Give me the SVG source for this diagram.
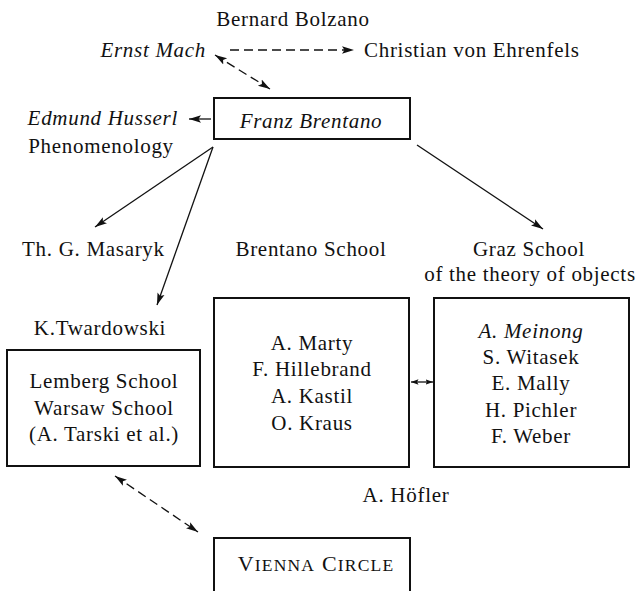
<svg xmlns="http://www.w3.org/2000/svg" width="640" height="591" viewBox="0 0 640 591">
<style>
text{font-family:"Liberation Serif","Times New Roman",serif;font-size:21px;letter-spacing:0.7px;fill:#111}
.it{font-style:italic}
.m{text-anchor:middle}
.e{text-anchor:end}
.box{fill:none;stroke:#111;stroke-width:2}
.ln{fill:none;stroke:#111;stroke-width:1.3}
.d{stroke-dasharray:9 5}
.big{font-size:22px}
.sm{font-size:17.5px}
</style>
<defs>
<marker id="ah" markerUnits="userSpaceOnUse" markerWidth="13" markerHeight="9" refX="12" refY="4.5" orient="auto-start-reverse">
<path d="M0,0.8 L12,4.5 L0,8.2 L2.5,4.5 Z" fill="#111"/>
</marker>
<marker id="ahs" markerUnits="userSpaceOnUse" markerWidth="8" markerHeight="7" refX="7.5" refY="3.5" orient="auto-start-reverse">
<path d="M0,0.8 L7.5,3.5 L0,6.2 L1.5,3.5 Z" fill="#111"/>
</marker>
</defs>
<rect width="640" height="591" fill="#fff"/>

<g id="bolzano"><text class="m" x="293" y="26">Bernard Bolzano</text></g>
<g id="mach"><text class="it e" x="206" y="57">Ernst Mach</text></g>
<g id="ehrenfels"><text x="364" y="57">Christian von Ehrenfels</text></g>
<g id="brentano">
<rect class="box" x="214" y="98" width="196" height="41"/>
<text class="it m" x="311" y="128">Franz Brentano</text>
</g>
<g id="husserl">
<text class="it e" x="178" y="125">Edmund Husserl</text>
<text class="m" x="101" y="153">Phenomenology</text>
</g>
<g id="masaryk"><text x="22" y="256">Th. G. Masaryk</text></g>
<g id="twardowski"><text class="m" x="100" y="335">K.Twardowski</text></g>
<g id="lemberg">
<rect class="box" x="7" y="350" width="193" height="116"/>
<text class="m" x="104" y="388">Lemberg School</text>
<text class="m" x="104" y="415">Warsaw School</text>
<text class="m" x="104" y="441">(A. Tarski et al.)</text>
</g>
<g id="brentano-school">
<text class="m" x="311" y="256">Brentano School</text>
<rect class="box" x="214" y="298" width="195" height="169"/>
<text class="m" x="312" y="350">A. Marty</text>
<text class="m" x="312" y="376">F. Hillebrand</text>
<text class="m" x="312" y="403">A. Kastil</text>
<text class="m" x="312" y="430">O. Kraus</text>
</g>
<g id="graz-school">
<text class="m" x="529" y="256">Graz School</text>
<text class="m" x="530" y="281">of the theory of objects</text>
<rect class="box" x="434" y="298" width="195" height="169"/>
<text class="it m" x="531" y="338">A. Meinong</text>
<text class="m" x="531" y="364">S. Witasek</text>
<text class="m" x="531" y="390">E. Mally</text>
<text class="m" x="531" y="417">H. Pichler</text>
<text class="m" x="531" y="443">F. Weber</text>
</g>
<g id="hofler"><text class="m" x="406" y="502">A. Höfler</text></g>
<g id="vienna">
<rect class="box" x="214" y="538" width="196" height="70"/>
<text class="m" x="316" y="571" style="letter-spacing:1.2px"><tspan class="big">V</tspan><tspan class="sm">IENNA</tspan><tspan class="big"> C</tspan><tspan class="sm">IRCLE</tspan></text>
</g>

<g id="connectors">
<line class="ln d" x1="230" y1="50" x2="354" y2="50" marker-end="url(#ah)"/>
<line class="ln d" x1="215" y1="55" x2="270" y2="89" marker-start="url(#ah)" marker-end="url(#ah)"/>
<line class="ln" x1="211" y1="119" x2="189" y2="119" marker-end="url(#ah)"/>
<line class="ln" x1="213" y1="147" x2="95" y2="227" marker-end="url(#ah)"/>
<line class="ln" x1="213" y1="147" x2="157" y2="305" marker-end="url(#ah)"/>
<line class="ln" x1="417" y1="145" x2="543" y2="229" marker-end="url(#ah)"/>
<line class="ln" x1="411" y1="382" x2="433" y2="382" marker-start="url(#ahs)" marker-end="url(#ahs)"/>
<line class="ln d" x1="115" y1="476" x2="198" y2="532" marker-start="url(#ah)" marker-end="url(#ah)"/>
</g>
</svg>
